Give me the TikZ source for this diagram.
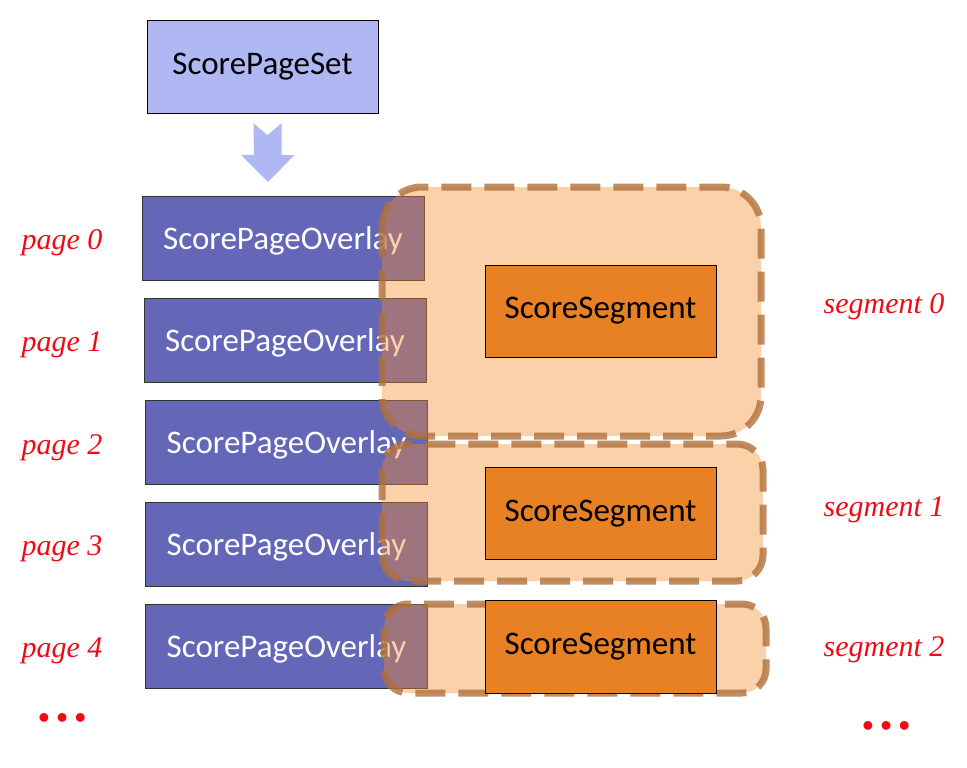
\documentclass[tikz,border=0pt]{standalone}
\usepackage{fontspec}
\setmainfont{Carlito}
\newfontfamily\labelfont{Liberation Serif}
\usetikzlibrary{calc}
\definecolor{setblue}{HTML}{B0B8F4}
\definecolor{overlayblue}{HTML}{6466B8}
\definecolor{segorange}{HTML}{E88024}
\definecolor{regionfill}{HTML}{F58C28}
\definecolor{regionline}{HTML}{B0703C}
\definecolor{labelred}{HTML}{F00A14}
\tikzset{
  setbox/.style={draw=black, fill=setblue, minimum width=231pt, minimum height=93pt, font=\fontsize{33}{36}\selectfont},
  overlaybox/.style={draw=black!80, fill=overlayblue, text=white, minimum width=282pt, minimum height=84pt, font=\fontsize{33}{36}\selectfont},
  segbox/.style={draw=black, fill=segorange, minimum width=231pt, minimum height=92pt, font=\fontsize{33}{36}\selectfont},
  region/.style={fill=regionfill, fill opacity=0.4, draw=regionline, draw opacity=0.8, line width=7pt, dash pattern=on 30pt off 13pt},
  pagelabel/.style={text=labelred, font=\labelfont\itshape\fontsize{30}{32}\selectfont},
  morelabel/.style={text=labelred, font=\labelfont\bfseries\fontsize{54}{56}\selectfont}
}
\begin{document}
\begin{tikzpicture}[x=1pt,y=-1pt]
\useasboundingbox (0,0) rectangle (967,768);
\node[setbox] (set) at (262.5,66.5) {ScorePageSet};
% the pages
\foreach \i/\x/\y in {0/283/238, 1/285/340, 2/286.5/442.5, 3/286.5/544, 4/286.5/646} {
  \node[overlaybox, text depth=-2pt] (page\i) at (\x,\y) {ScorePageOverlay};
  \node[pagelabel] (plabel\i) at (62,\y+5) {page \i};
}
% block arrow from the set to the first page
\coordinate (atop) at ($(set.south)+(5,10)$);
\coordinate (atip) at ($(page0.north)+(-15,-14)$);
\fill[setblue] (atop) ++(-14,0) -- ++(14,12) -- ++(14,-12) -- ++(0,32) -- ++(13,0)
  -- (atip) -- ++(-27,-27) -- ++(13,0) -- cycle;
% the segments
\draw[region, rounded corners=40pt] (382,187) rectangle (761,436);
\draw[region, rounded corners=26pt] (382,444) rectangle (763,581);
\draw[region, rounded corners=24pt] (384,604) rectangle (766,693);
\node[segbox] (seg0) at (600.5,311) {ScoreSegment};
\node[segbox] (seg1) at (600.5,513.5) {ScoreSegment};
\node[segbox, minimum height=93pt] (seg2) at (600.5,646.5) {ScoreSegment};
\node[pagelabel] (slabel0) at (884,307) {segment 0};
\node[pagelabel] (slabel1) at (884,510) {segment 1};
\node[pagelabel] (slabel2) at (884,650) {segment 2};
\node[morelabel] (pmore) at (62,718) {…};
\node[morelabel] (smore) at (886,726) {…};
\end{tikzpicture}
\end{document}
